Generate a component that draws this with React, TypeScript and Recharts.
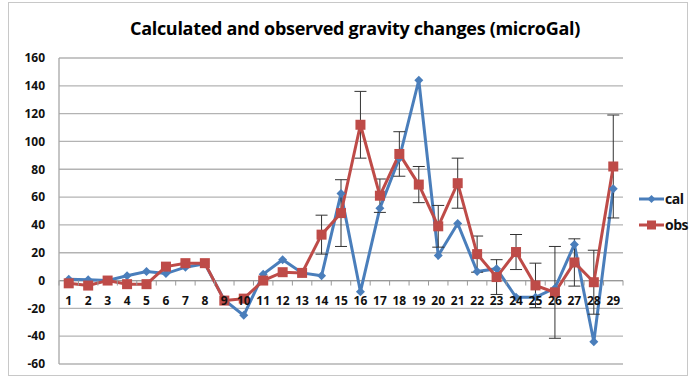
import React from 'react';
import {
  LineChart,
  Line,
  XAxis,
  YAxis,
  CartesianGrid,
  ReferenceLine,
  ErrorBar,
} from 'recharts';

// Colori "Office 2007" del grafico originale.
const BLUE = '#4a7ebb';
const RED = '#be4b48';
const GRID = '#b3b3b3';
const FONT = '"Open Sans", "Liberation Sans", sans-serif';

const categories = ['1', '2', '3', '4', '5', '6', '7', '8', '9', '10', '11', '12', '13', '14', '15',
  '16', '17', '18', '19', '20', '21', '22', '23', '24', '25', '26', '27', '28', '29'];

const cal = [1, 0.5, 0, 3.5, 6.5, 5, 9.6, 12, -14, -25, 4.6, 15, 5.5, 3.4, 62.5,
  -8, 52, 88, 144, 18, 41, 6.5, 8.5, -12, -12, -5.5, 26, -44, 66];

const obs = [-2, -3.6, 0, -2.6, -2.6, 10, 12.5, 12.5, -14.4, -13, 0, 6, 5.5, 33, 48.5,
  112, 61, 91, 69, 39, 70, 19, 2.5, 20.5, -3.5, -8.5, 13, -1.2, 82];

const obsErr = [null, null, null, null, null, null, null, null, null, null, null, null, null, 14, 24,
  24, 12, 16, 13, 15, 18, 13, 12.5, 12.6, 16, 33, 17, 23, 37];

const yTicks = [-60, -40, -20, 0, 20, 40, 60, 80, 100, 120, 140, 160];

const data = categories.map((c, i) => ({ name: c, cal: cal[i], obs: obs[i], obsErr: obsErr[i] }));

const W = 690;
const H = 378;
const X_AXIS_H = 20;
const MARGIN = { top: 58, right: 67, bottom: 14 - X_AXIS_H, left: 0 };
const Y_AXIS_W = 59;
const PLOT_H = H - 58 - 14;
const PLOT_W = W - MARGIN.right - Y_AXIS_W;
const BAND = PLOT_W / categories.length;
// posizione dello zero rispetto al fondo del plot (dominio -60..160)
const ZERO_UP = (PLOT_H * 60) / 220;

function Diamond({ cx, cy, fill, r = 4.5 }: any) {
  if (cx == null || cy == null) return null;
  return <polygon points={`${cx},${cy - r} ${cx + r},${cy} ${cx},${cy + r} ${cx - r},${cy}`} fill={fill} />;
}

function Square({ cx, cy, fill, r = 5 }: any) {
  if (cx == null || cy == null) return null;
  return <rect x={cx - r} y={cy - r} width={r * 2} height={r * 2} fill={fill} />;
}

// etichette categoria disegnate sull'asse dello zero, come in Excel
function CategoryTick({ x, y, payload, index }: any) {
  const zy = y - ZERO_UP;
  const left = x - BAND / 2;
  return (
    <g>
      <line x1={left} x2={left} y1={zy} y2={zy + 5} stroke="#999" />
      {index === categories.length - 1 && (
        <line x1={x + BAND / 2} x2={x + BAND / 2} y1={zy} y2={zy + 5} stroke="#999" />
      )}
      <text x={x} y={zy + 24} textAnchor="middle" fontSize={12} fontWeight={700} fill="#111" fontFamily={FONT}>
        {payload.value}
      </text>
    </g>
  );
}

function LegendBox() {
  const items = [
    { label: 'cal', color: BLUE, shape: 'diamond' },
    { label: 'obs', color: RED, shape: 'square' },
  ];
  return (
    <svg width={54} height={52} style={{ position: 'absolute', left: 636, top: 190 }}>
      {items.map((it, i) => {
        const cy = 9 + i * 26;
        return (
          <g key={it.label}>
            <line x1={3} x2={28} y1={cy} y2={cy} stroke={it.color} strokeWidth={3} />
            {it.shape === 'diamond' ? (
              <Diamond cx={15.5} cy={cy} fill={it.color} r={4} />
            ) : (
              <Square cx={15.5} cy={cy} fill={it.color} r={4.5} />
            )}
            <text x={29} y={cy + 5} fontSize={14} fontWeight={700} letterSpacing={-0.5} fill="#111" fontFamily={FONT}>
              {it.label}
            </text>
          </g>
        );
      })}
    </svg>
  );
}

export default function App() {
  return (
    <div style={{ position: 'absolute', left: 0, top: 0, width: W, height: H, background: '#fff' }}>
      <div
        style={{
          position: 'absolute',
          left: 8,
          top: 2,
          width: 680,
          height: 374,
          border: '1px solid #c8c8c8',
          boxSizing: 'border-box',
        }}
      />
      <div
        style={{
          position: 'absolute',
          left: 0,
          width: 710,
          top: 16,
          textAlign: 'center',
          fontFamily: FONT,
          fontWeight: 700,
          fontSize: 18,
          letterSpacing: -0.3,
          color: '#000',
        }}
      >
        Calculated and observed gravity changes (microGal)
      </div>
      <LineChart width={W} height={H} data={data} margin={MARGIN} style={{ position: 'absolute', left: 0, top: 0 }}>
        <CartesianGrid horizontal vertical={false} stroke={GRID} strokeWidth={1.3} />
        <XAxis
          dataKey="name"
          height={X_AXIS_H}
          padding={{ left: BAND / 2, right: BAND / 2 }}
          axisLine={false}
          tickLine={false}
          tickSize={0}
          tickMargin={0}
          interval={0}
          tick={<CategoryTick />}
        />
        <YAxis
          domain={[-60, 160]}
          ticks={yTicks}
          width={Y_AXIS_W}
          axisLine={{ stroke: '#a6a6a6', strokeWidth: 1.3 }}
          tickLine={false}
          tickSize={6}
          tickMargin={8}
          tick={{ fontSize: 12, fontWeight: 700, fill: '#111', fontFamily: FONT }}
        />
        <ReferenceLine y={0} stroke="#999" strokeWidth={1.3} />
        <Line
          dataKey="cal"
          stroke={BLUE}
          strokeWidth={3}
          isAnimationActive={false}
          dot={(p: any) => <Diamond key={`c${p.index}`} cx={p.cx} cy={p.cy} fill={BLUE} />}
          activeDot={false}
        />
        <Line
          dataKey="obs"
          stroke={RED}
          strokeWidth={3}
          isAnimationActive={false}
          dot={(p: any) => <Square key={`o${p.index}`} cx={p.cx} cy={p.cy} fill={RED} />}
          activeDot={false}
        >
          <ErrorBar dataKey="obsErr" width={6} stroke="#333" strokeWidth={1} />
        </Line>
      </LineChart>
      <LegendBox />
    </div>
  );
}
